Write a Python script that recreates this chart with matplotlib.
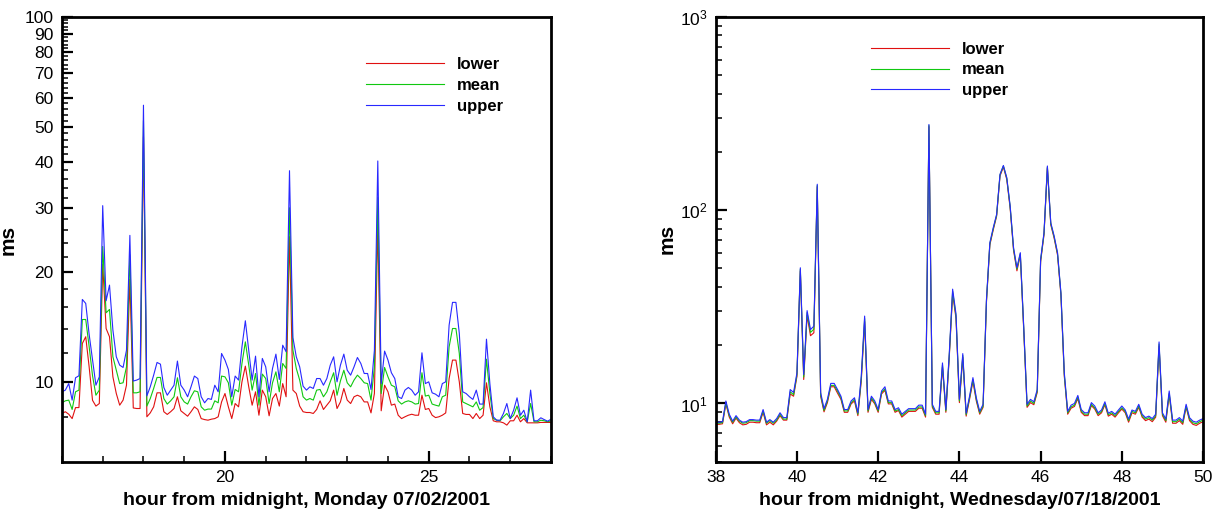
import numpy as np
import matplotlib
matplotlib.use('Agg')
import matplotlib.pyplot as plt
from matplotlib.ticker import FixedLocator, FixedFormatter, NullFormatter, MultipleLocator, LogLocator

plt.rcParams['font.family'] = ['Liberation Sans', 'DejaVu Sans']
plt.rcParams['mathtext.default'] = 'regular'

#####
# Data: 5-minute samples, lower / mean / upper bound (ms)
#####

# Monday 07/02/2001, hours 16 -> 28
hours_mon = np.linspace(16, 28, 145)

upper_mon = [
    9.39, 9.49, 9.89, 8.91, 10.26, 10.39, 16.82, 16.40, 13.5, 11.5,
    9.79, 10.32, 30.4, 16.68, 18.41, 13.86, 11.71, 11.11, 10.95, 12.21,
    25.2, 10.05, 10.11, 10.21, 57.3, 9.15, 9.69, 10.43, 11.30, 11.18,
    9.65, 9.19, 9.49, 9.79, 11.40, 9.79, 9.49, 9.10, 9.69, 10.37,
    10.21, 9.10, 8.76, 9.00, 8.95, 9.79, 9.39, 11.96, 11.47, 10.81,
    9.10, 10.37, 10.11, 12.47, 14.70, 12.21, 10.11, 11.76, 9.10, 11.59,
    10.99, 9.39, 10.88, 11.91, 10.15, 12.60, 12.09, 37.9, 13.23, 11.71,
    10.99, 9.73, 9.49, 9.69, 9.59, 10.21, 10.21, 9.79, 10.21, 11.11,
    11.71, 10.00, 11.11, 11.91, 10.76, 10.43, 10.99, 11.66, 11.23, 10.54,
    10.54, 9.53, 12.21, 40.3, 9.89, 12.14, 11.47, 10.59, 10.21, 9.10,
    9.00, 9.49, 9.65, 9.49, 9.19, 9.39, 12.01, 9.89, 10.00, 9.33,
    9.25, 9.10, 9.89, 10.00, 14.30, 16.51, 16.51, 13.57, 9.39, 9.29,
    9.10, 8.95, 9.49, 8.69, 8.69, 13.09, 9.89, 8.02, 7.85, 7.85,
    8.19, 8.72, 7.93, 8.36, 9.04, 8.10, 8.36, 7.77, 9.49, 7.82,
    7.82, 7.97, 7.88, 7.80, 7.90]

mean_mon = [
    8.76, 8.87, 8.91, 8.40, 9.39, 9.49, 14.82, 14.82, 12.5, 10.4,
    9.19, 9.49, 23.5, 15.46, 15.79, 11.71, 10.76, 9.89, 9.94, 10.99,
    22.3, 9.33, 9.33, 9.39, 52.0, 8.58, 9.00, 9.59, 10.28, 10.28,
    9.00, 8.69, 8.87, 9.10, 10.26, 9.10, 8.81, 8.69, 9.10, 9.45,
    9.39, 8.54, 8.36, 8.42, 8.42, 8.87, 8.76, 10.37, 10.32, 9.94,
    8.63, 9.53, 9.39, 11.23, 12.87, 11.11, 9.49, 10.54, 8.63, 10.50,
    10.21, 8.72, 9.94, 10.65, 9.39, 11.23, 10.88, 30.0, 12.21, 10.88,
    10.11, 9.10, 8.91, 9.00, 8.91, 9.49, 9.53, 9.10, 9.39, 10.00,
    10.59, 9.19, 10.06, 10.76, 9.94, 9.69, 10.11, 10.43, 10.21, 9.94,
    9.89, 8.91, 10.99, 32.0, 9.29, 10.95, 10.32, 9.79, 9.69, 8.87,
    8.69, 8.81, 8.87, 8.81, 8.69, 8.72, 10.59, 9.14, 9.19, 8.69,
    8.63, 8.58, 9.10, 9.19, 12.47, 14.00, 14.00, 11.96, 8.81, 8.72,
    8.63, 8.54, 8.81, 8.36, 8.50, 11.54, 9.29, 7.93, 7.85, 7.82,
    8.02, 8.19, 7.93, 8.10, 8.58, 7.93, 8.10, 7.77, 8.72, 7.77,
    7.77, 7.85, 7.82, 7.77, 7.82]

lower_mon = [
    8.19, 8.28, 8.15, 7.93, 8.50, 8.50, 12.74, 13.29, 11.0, 8.9,
    8.58, 8.72, 21.0, 14.00, 13.29, 10.32, 9.29, 8.63, 8.91, 9.79,
    19.1, 8.48, 8.45, 8.45, 47.0, 8.02, 8.22, 8.54, 9.33, 9.33,
    8.28, 8.14, 8.28, 8.45, 9.10, 8.33, 8.19, 8.05, 8.28, 8.54,
    8.40, 7.93, 7.88, 7.85, 7.90, 7.93, 8.02, 8.81, 9.29, 8.54,
    7.93, 8.72, 8.54, 10.00, 11.04, 9.69, 8.63, 9.39, 8.10, 9.49,
    9.10, 8.07, 9.00, 9.29, 8.58, 9.89, 9.10, 25.0, 9.49, 9.29,
    8.58, 8.28, 8.24, 8.24, 8.19, 8.40, 8.87, 8.40, 8.63, 8.87,
    9.49, 8.45, 8.81, 9.59, 8.91, 8.72, 9.10, 9.19, 9.10, 8.81,
    8.81, 8.22, 9.29, 27.0, 8.33, 9.79, 9.39, 8.63, 8.69, 8.10,
    7.93, 8.02, 8.10, 8.15, 8.10, 8.10, 9.19, 8.40, 8.45, 8.10,
    7.98, 8.02, 8.10, 8.22, 10.21, 11.47, 11.47, 10.00, 8.19, 8.14,
    8.14, 7.93, 8.19, 7.93, 8.10, 9.94, 8.54, 7.82, 7.77, 7.77,
    7.72, 7.61, 7.82, 7.82, 8.10, 7.77, 7.93, 7.72, 7.72, 7.72,
    7.72, 7.74, 7.74, 7.74, 7.74]

# Wednesday 07/18/2001, hours 38 -> 50
hours_wed = np.linspace(38, 50, 145)

upper_wed = [
    8.0, 8.0, 8.05, 10.3, 8.8, 8.1, 8.65, 8.2, 8.0, 8.05,
    8.25, 8.25, 8.2, 8.2, 9.3, 8.0, 8.25, 8.0, 8.35, 8.95,
    8.45, 8.45, 11.8, 11.4, 14.4, 50.3, 14.1, 30.2, 24.1, 25.1,
    136, 11.4, 9.4, 10.5, 12.7, 12.7, 11.8, 10.9, 9.3, 9.3,
    10.3, 10.7, 8.95, 13.8, 28.3, 9.3, 10.9, 10.3, 9.3, 11.6,
    12.2, 10.3, 10.3, 9.3, 9.5, 8.8, 9.1, 9.4, 9.4, 9.4,
    9.8, 9.8, 8.8, 277, 9.9, 9.1, 9.1, 16.2, 9.3, 18.0,
    39.0, 29.0, 10.5, 18.1, 8.9, 10.9, 13.6, 10.7, 9.1, 9.9,
    34.5, 67.8, 81.0, 95.0, 153, 170, 147, 105, 64.0, 50.3,
    60.2, 25.1, 9.9, 10.5, 10.2, 11.8, 55.6, 76.4, 169, 86.0,
    73.4, 60.2, 37.4, 14.4, 9.1, 9.8, 10.0, 11.0, 9.3, 8.95,
    8.95, 10.1, 9.7, 8.95, 9.25, 10.2, 8.9, 9.1, 8.8, 9.25,
    9.7, 9.25, 8.3, 9.25, 9.1, 9.9, 8.8, 8.45, 8.6, 8.35,
    8.8, 20.8, 8.95, 8.3, 11.6, 8.2, 8.2, 8.45, 8.1, 9.9,
    8.45, 8.1, 8.0, 8.2, 8.35]

mean_wed = [
    7.9, 7.9, 7.95, 10.1, 8.65, 8.0, 8.5, 8.1, 7.9, 7.95,
    8.15, 8.15, 8.1, 8.1, 9.15, 7.9, 8.15, 7.9, 8.2, 8.8,
    8.3, 8.3, 11.5, 11.1, 14.1, 49.5, 13.7, 29.5, 23.3, 24.2,
    134, 11.1, 9.2, 10.3, 12.4, 12.4, 11.6, 10.7, 9.15, 9.15,
    10.1, 10.5, 8.8, 13.4, 27.5, 9.15, 10.7, 10.1, 9.15, 11.4,
    11.9, 10.1, 10.1, 9.15, 9.3, 8.65, 8.95, 9.25, 9.25, 9.25,
    9.6, 9.6, 8.65, 274, 9.7, 8.95, 8.95, 15.8, 9.15, 17.6,
    38.0, 28.3, 10.3, 17.7, 8.75, 10.7, 13.3, 10.5, 8.95, 9.7,
    34.0, 67.0, 80.0, 94.0, 152, 169, 146, 104, 63.0, 49.5,
    59.5, 24.7, 9.7, 10.3, 10.0, 11.6, 55.0, 75.5, 167, 85.0,
    72.5, 59.5, 37.0, 14.1, 8.95, 9.6, 9.8, 10.8, 9.15, 8.8,
    8.8, 9.9, 9.5, 8.8, 9.1, 10.0, 8.75, 8.95, 8.65, 9.1,
    9.5, 9.1, 8.15, 9.1, 8.95, 9.7, 8.65, 8.3, 8.45, 8.2,
    8.65, 20.3, 8.8, 8.15, 11.3, 8.05, 8.05, 8.3, 7.95, 9.7,
    8.3, 7.95, 7.85, 8.05, 8.2]

lower_wed = [
    7.8, 7.8, 7.85, 9.95, 8.5, 7.85, 8.4, 7.95, 7.75, 7.8,
    8.0, 8.0, 7.95, 7.95, 9.0, 7.75, 8.0, 7.75, 8.1, 8.65,
    8.2, 8.2, 11.2, 10.9, 13.8, 48.5, 13.3, 28.5, 22.4, 23.2,
    132, 10.9, 9.05, 10.1, 12.2, 12.2, 11.3, 10.5, 9.0, 9.0,
    9.95, 10.3, 8.65, 13.0, 26.5, 9.0, 10.5, 9.95, 9.0, 11.2,
    11.7, 9.95, 9.95, 9.0, 9.2, 8.5, 8.8, 9.1, 9.1, 9.1,
    9.45, 9.45, 8.5, 270, 9.55, 8.8, 8.8, 15.4, 9.0, 17.2,
    37.0, 27.5, 10.1, 17.3, 8.6, 10.5, 13.0, 10.3, 8.8, 9.55,
    33.5, 66.0, 79.0, 93.0, 150, 167, 144, 102, 62.0, 48.5,
    58.5, 24.2, 9.55, 10.1, 9.85, 11.4, 54.0, 74.5, 165, 84.0,
    71.5, 58.5, 36.3, 13.8, 8.8, 9.45, 9.65, 10.6, 9.0, 8.65,
    8.65, 9.75, 9.35, 8.65, 8.95, 9.85, 8.6, 8.8, 8.5, 8.95,
    9.35, 8.95, 8.0, 8.95, 8.8, 9.55, 8.5, 8.15, 8.3, 8.05,
    8.5, 19.8, 8.65, 8.0, 11.1, 7.9, 7.9, 8.15, 7.8, 9.55,
    8.15, 7.8, 7.7, 7.9, 8.05]

series_names = ['lower', 'mean', 'upper']
series_colors = ['#e01010', '#10c810', '#2828ff']


def style_axes(ax):
    """thick frame, inward ticks on left/bottom only"""
    for side in ['left', 'bottom', 'top', 'right']:
        ax.spines[side].set_linewidth(2.0)
    ax.tick_params(which='both', direction='in', top=False, right=False,
                   labelsize=12.5, pad=6)
    ax.tick_params(which='major', length=8, width=1.6)
    ax.tick_params(which='minor', length=4.5, width=1.1)


def add_legend(ax, anchor):
    leg = ax.legend(loc='upper left', bbox_to_anchor=anchor, frameon=False,
                    handlelength=4.67, handletextpad=0.78, labelspacing=0.35,
                    borderpad=0, borderaxespad=0, prop={'weight': 'bold', 'size': 12})
    return leg


fig = plt.figure(figsize=(12.22, 5.14), dpi=100)

#####
# Left panel: Monday
#####
ax1 = fig.add_axes([0.0507, 0.1012, 0.4002, 0.8658])
for vals, name, col in zip([lower_mon, mean_mon, upper_mon], series_names, series_colors):
    ax1.plot(hours_mon, vals, color=col, lw=0.8, label=name)
ax1.set_yscale('log')
ax1.set_xlim(16, 28)
ax1.set_ylim(6.03, 100)
major_y = list(range(10, 101, 10))
minor_y = [8] + [v for v in range(12, 100, 2) if v % 10 != 0]
ax1.yaxis.set_major_locator(FixedLocator(major_y))
ax1.yaxis.set_major_formatter(FixedFormatter([str(v) for v in major_y]))
ax1.yaxis.set_minor_locator(FixedLocator(minor_y))
ax1.yaxis.set_minor_formatter(NullFormatter())
ax1.xaxis.set_major_locator(MultipleLocator(5))
ax1.xaxis.set_minor_locator(MultipleLocator(1))
style_axes(ax1)
ax1.set_xlabel('hour from midnight, Monday 07/02/2001', fontsize=14, fontweight='bold', labelpad=5)
ax1.set_ylabel('ms', fontsize=15, fontweight='bold')
ax1.yaxis.set_label_coords(-0.09, 0.5)
add_legend(ax1, (0.622, 0.910))

#####
# Right panel: Wednesday
#####
ax2 = fig.add_axes([0.5857, 0.1018, 0.3988, 0.8658])
for vals, name, col in zip([lower_wed, mean_wed, upper_wed], series_names, series_colors):
    ax2.plot(hours_wed, vals, color=col, lw=0.8, label=name)
ax2.set_yscale('log')
ax2.set_xlim(38, 50)
ax2.set_ylim(5, 1000)
ax2.yaxis.set_major_locator(LogLocator(base=10))
ax2.yaxis.set_minor_locator(LogLocator(base=10, subs=np.arange(2, 10)))
ax2.yaxis.set_minor_formatter(NullFormatter())
ax2.xaxis.set_major_locator(MultipleLocator(2))
style_axes(ax2)
ax2.set_xlabel('hour from midnight, Wednesday/07/18/2001', fontsize=14, fontweight='bold', labelpad=5)
ax2.set_ylabel('ms', fontsize=15, fontweight='bold')
ax2.yaxis.set_label_coords(-0.081, 0.5)
add_legend(ax2, (0.318, 0.944))

fig.savefig('out.png', dpi=100)
